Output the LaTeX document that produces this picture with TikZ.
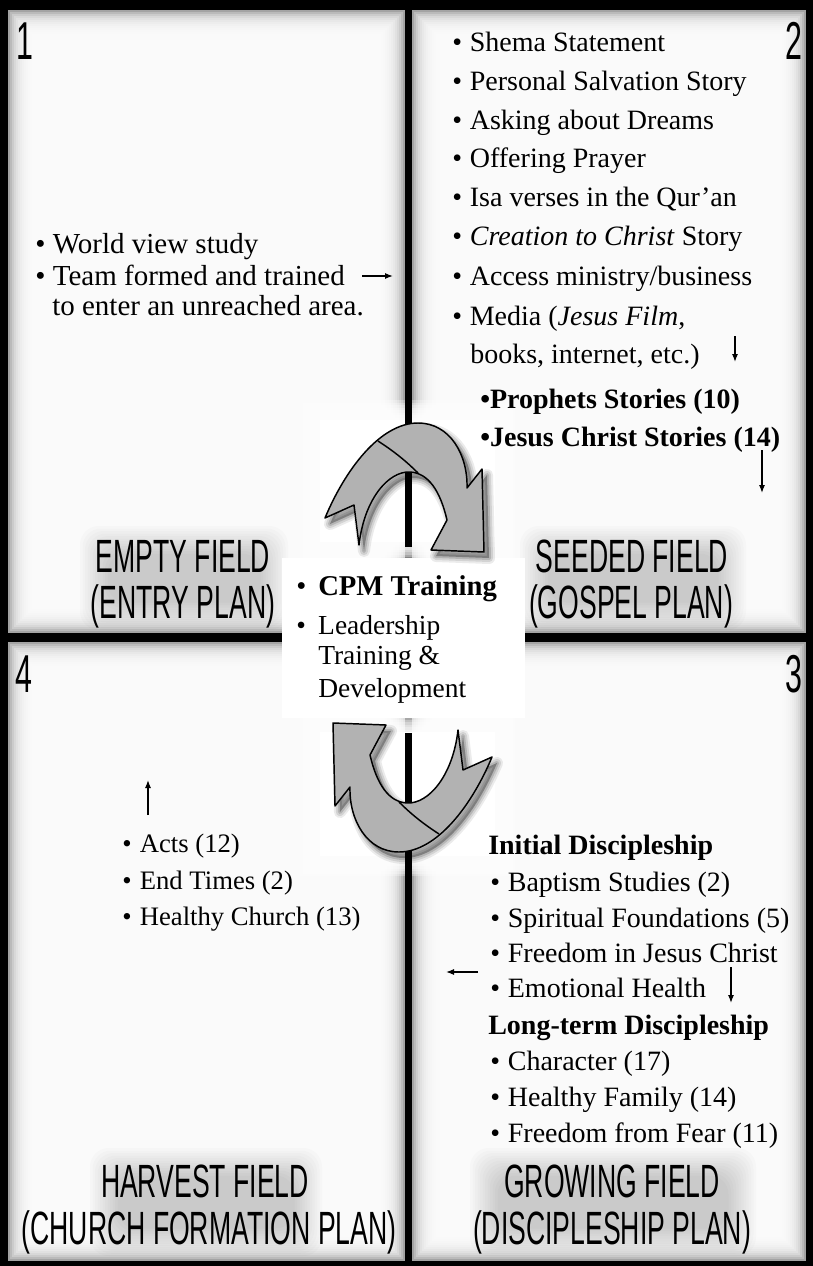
\documentclass[tikz,border=0pt]{standalone}
\usepackage{fontspec}
\setmainfont{Liberation Serif}
\newfontfamily\headfont[FakeStretch=0.57]{Liberation Sans}
\usetikzlibrary{arrows.meta}
\newcommand\bul{\makebox[13.2pt][l]{\textbullet}}
\newcommand\bulc{\makebox[19.5pt][l]{\hspace{3pt}\textbullet}}
\newcommand\mypanel[4]{%
  \fill[black!36] (#1,#2) rectangle (#3,#4);
  \foreach \i in {1,...,12}{\fill[white,opacity=0.25] (#1+2*\i,#2+2*\i) rectangle (#3-2*\i,#4-2*\i);}
}
\newcommand\myglow[4]{%
  \foreach \i in {0,...,11}{\fill[black,opacity=0.014,rounded corners=14pt] (#1+2.5*\i,#2+2.5*\i) rectangle (#3-2.5*\i,#4-2.5*\i);}
}
\newcommand\mywhite[4]{%
  \foreach \i in {0,...,7}{\fill[white,opacity=0.3] (#1+2.5*\i,#2+2.5*\i) rectangle (#3-2.5*\i,#4-2.5*\i);}
  \fill[white] (#1+20,#2+20) rectangle (#3-20,#4-20);
}
\newcommand\arrowshape{(325,518) .. controls (345,470) and (380,423) .. (418,423) .. controls (450,423) and (468,455) .. (467,488) -- (482,469) -- (484,552) -- (431,550) -- (447,520) .. controls (440,490) and (428,473) .. (410,472) .. controls (388,471) and (364,500) .. (359,545) -- (354,505) -- cycle}
\begin{document}
\begin{tikzpicture}[x=0.75pt,y=-0.75pt,
  t1/.style={anchor=base west,inner sep=0pt,font=\fontsize{21.75}{26}\selectfont},
  t2/.style={anchor=base west,inner sep=0pt,font=\fontsize{21}{25}\selectfont},
  t4/.style={anchor=base west,inner sep=0pt,font=\fontsize{20}{24}\selectfont},
  tc/.style={anchor=base west,inner sep=0pt,font=\fontsize{20.6}{24}\selectfont},
  head/.style={anchor=base,inner sep=0pt,font=\headfont\fontsize{35}{40}\selectfont},
  num/.style={inner sep=0pt,font=\headfont\fontsize{40}{44}\selectfont},
  sarrow/.style={-{Latex[length=6pt,width=4.5pt]},line width=0.9pt},
  ribbon/.style={fill=black!30,draw=black,line width=1.1pt,line join=round},
  rshadow/.style={fill=black,draw=black,line join=round}]
\useasboundingbox (0,0) rectangle (813,1266);
\fill[black] (0,0) rectangle (813,1266);
% panels
\mypanel{8}{10}{405}{633}
\mypanel{412}{10}{806}{633}
\mypanel{8}{642}{405}{1261}
\mypanel{412}{642}{806}{1261}
% heading haze
\myglow{80}{526}{288}{630}
\myglow{520}{526}{746}{630}
\myglow{90}{1148}{322}{1256}
\myglow{470}{1148}{756}{1256}
% white behind arrows
\mywhite{300}{400}{515}{562}
\mywhite{300}{712}{515}{876}
\fill[black] (405,395) rectangle (412,547);
\fill[black] (405,733) rectangle (412,880);
% central box
\fill[white] (282,558) rectangle (525,718);
% top arrow
\foreach \w/\o in {9/0.08,6/0.10,3/0.14}{\path[rshadow,opacity=\o,line width=\w pt,shift={(5,6)}] \arrowshape;}
\path[ribbon] \arrowshape;
\draw[line width=1.1pt] (378,441) .. controls (395,452) and (407,462) .. (418,473);
% bottom arrow
\begin{scope}[shift={(5,6)},rotate around={180:(408.5,637.5)}]
\foreach \w/\o in {9/0.08,6/0.10,3/0.14}{\path[rshadow,opacity=\o,line width=\w pt] \arrowshape;}
\end{scope}
\begin{scope}[rotate around={180:(408.5,637.5)}]
\path[ribbon] \arrowshape;
\draw[line width=1.1pt] (378,441) .. controls (395,452) and (407,462) .. (418,473);
\end{scope}
% numbers
\node[num,anchor=base west] (n1) at (16,60) {1};
\node[num,anchor=base east] (n2) at (803,60) {2};
\node[num,anchor=base west] (n4) at (15,692) {4};
\node[num,anchor=base east] (n3) at (803,692) {3};
% headings
\node[head] (h1a) at (183,572) {EMPTY FIELD};
\node[head] (h1b) at (183,618) {(ENTRY PLAN)};
\node[head] (h2a) at (632,572) {SEEDED FIELD};
\node[head] (h2b) at (631,618) {(GOSPEL PLAN)};
\node[head] (h4a) at (205,1197) {HARVEST FIELD};
\node[head] (h4b) at (209,1244) {(CHURCH FORMATION PLAN)};
\node[head] (h3a) at (612,1197) {GROWING FIELD};
\node[head] (h3b) at (612,1244) {(DISCIPLESHIP PLAN)};
% panel 1
\node[t1] (p1a) at (35,253) {\bul World view study};
\node[t1] (p1b) at (35,285) {\bul Team formed and trained};
\node[t1] (p1c) at (52,315) {to enter an unreached area.};
\coordinate (a1s) at (362,276);
\coordinate (a1e) at (393,276);
\draw[sarrow] (a1s) -- (a1e);
% panel 2
\node[t2] (p2a) at (452,52) {\bul Shema Statement};
\node[t2] (p2b) at (452,91) {\bul Personal Salvation Story};
\node[t2] (p2c) at (452,130) {\bul Asking about Dreams};
\node[t2] (p2d) at (452,168) {\bul Offering Prayer};
\node[t2] (p2e) at (452,207) {\bul Isa verses in the Qur’an};
\node[t2] (p2f) at (452,246) {\bul\textit{Creation to Christ} Story};
\node[t2] (p2g) at (452,285) {\bul Access ministry/business};
\node[t2] (p2h) at (452,325) {\bul Media (\textit{Jesus Film},};
\node[t2] (p2i) at (470,363) {books, internet, etc.)};
\coordinate (a2s) at (735,336);
\coordinate (a2e) at (735,362);
\draw[sarrow] (a2s) -- (a2e);
\node[t2] (p2j) at (480,408) {\textbf{\textbullet Prophets Stories (10)}};
\node[t2] (p2k) at (480,446) {\textbf{\textbullet Jesus Christ Stories (14)}};
\coordinate (a3s) at (762,450);
\coordinate (a3e) at (762,493);
\draw[sarrow] (a3s) -- (a3e);
% center
\node[t2,font=\fontsize{21.5}{25}\selectfont] (c1) at (292,595) {\bulc\textbf{CPM Training}};
\node[tc] (c2) at (292,634) {\bulc Leadership};
\node[tc] (c3) at (318,664) {Training \&};
\node[tc] (c4) at (318,697) {Development};
% panel 3
\node[t2] (p3a) at (488,854) {\textbf{Initial Discipleship}};
\node[t2] (p3b) at (490,891) {\bul Baptism Studies (2)};
\node[t2] (p3c) at (490,927) {\bul Spiritual Foundations (5)};
\node[t2] (p3d) at (490,962) {\bul Freedom in Jesus Christ};
\node[t2] (p3e) at (490,997) {\bul Emotional Health};
\coordinate (a4s) at (731,967);
\coordinate (a4e) at (731,1003);
\draw[sarrow] (a4s) -- (a4e);
\coordinate (a5s) at (478,972);
\coordinate (a5e) at (446,972);
\draw[sarrow] (a5s) -- (a5e);
\node[t2] (p3f) at (488,1034) {\textbf{Long-term Discipleship}};
\node[t2] (p3g) at (490,1070) {\bul Character (17)};
\node[t2] (p3h) at (490,1106) {\bul Healthy Family (14)};
\node[t2] (p3i) at (490,1142) {\bul Freedom from Fear (11)};
% panel 4
\coordinate (a6s) at (148,815);
\coordinate (a6e) at (148,780);
\draw[sarrow] (a6s) -- (a6e);
\node[t4] (p4a) at (122,852) {\bul Acts (12)};
\node[t4] (p4b) at (122,889) {\bul End Times (2)};
\node[t4] (p4c) at (122,925) {\bul Healthy Church (13)};
\end{tikzpicture}
\end{document}
